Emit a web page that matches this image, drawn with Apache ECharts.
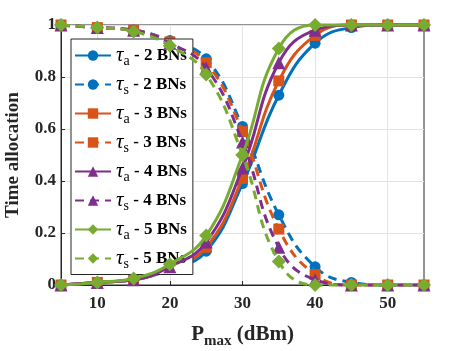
<!DOCTYPE html>
<html>
<head>
<meta charset="utf-8">
<script src="https://cdn.jsdelivr.net/npm/echarts@6/dist/echarts.min.js"></script>
<style>html,body{margin:0;padding:0;background:#fff}#c{width:468px;height:351px}</style>
</head>
<body>
<div id="c"></div>
<script>
const pmax = [5, 10, 15, 20, 25, 30, 35, 40, 45, 50, 55];
const xTicks = [10, 20, 30, 40, 50];
const yTicks = [0, 0.2, 0.4, 0.6, 0.8, 1];
const ta2 = [0, 0.01, 0.02, 0.06, 0.13, 0.39, 0.73, 0.93, 0.99, 1, 1];
const ts2 = [1, 0.99, 0.98, 0.94, 0.87, 0.61, 0.27, 0.07, 0.01, 0, 0];
const ta3 = [0, 0.01, 0.02, 0.065, 0.145, 0.41, 0.785, 0.96, 1, 1, 1];
const ts3 = [1, 0.99, 0.98, 0.935, 0.855, 0.59, 0.215, 0.04, 0, 0, 0];
const ta4 = [0, 0.01, 0.02, 0.07, 0.165, 0.45, 0.855, 0.98, 1, 1, 1];
const ts4 = [1, 0.99, 0.98, 0.93, 0.835, 0.55, 0.145, 0.02, 0, 0, 0];
const ta5 = [0, 0.01, 0.025, 0.08, 0.19, 0.50, 0.91, 1, 1, 1, 1];
const ts5 = [1, 0.99, 0.975, 0.92, 0.81, 0.50, 0.09, 0, 0, 0, 0];

const colors = ['#0072BD', '#D95319', '#7E2F8E', '#77AC30'];
const symbols = ['circle', 'rect', 'triangle', 'diamond'];
const bns = ['2', '3', '4', '5'];
const taAll = [ta2, ta3, ta4, ta5];
const tsAll = [ts2, ts3, ts4, ts5];
const FONT = '"Liberation Serif", "Times New Roman", serif';

const series = [];
const legendData = [];
function symSize(s) { return s === 'diamond' ? 14 : (s === 'triangle' ? 13 : 11); }
for (let i = 0; i < 4; i++) {
  const na = 'a|' + bns[i];
  const ns = 's|' + bns[i];
  legendData.push(na, ns);
  series.push({
    name: na, type: 'line', smooth: 0.45, clip: false,
    data: pmax.map((x, k) => [x, taAll[i][k]]),
    symbol: symbols[i], symbolSize: symSize(symbols[i]),
    showAllSymbol: true,
    lineStyle: { color: colors[i], width: 3, type: 'solid' },
    itemStyle: { color: colors[i], borderColor: colors[i], borderWidth: 0 },
    z: 2 + i
  });
  series.push({
    name: ns, type: 'line', smooth: 0.45, clip: false,
    data: pmax.map((x, k) => [x, tsAll[i][k]]),
    symbol: symbols[i], symbolSize: symSize(symbols[i]),
    showAllSymbol: true,
    lineStyle: { color: colors[i], width: 3, type: [9, 6] },
    itemStyle: { color: colors[i], borderColor: colors[i], borderWidth: 0 },
    z: 2 + i
  });
}

const chart = echarts.init(document.getElementById('c'), null, { renderer: 'canvas' });
chart.setOption({
  animation: false,
  backgroundColor: '#fff',
  grid: { left: 61, right: 44, top: 25, bottom: 66, containLabel: false, outerBoundsMode: 'none', show: true, borderColor: '#262626', borderWidth: 1, backgroundColor: 'transparent' },
  xAxis: {
    type: 'value', min: 5, max: 55,
    name: '{p|P}{m|max}{p| (dBm)}', nameLocation: 'middle', nameGap: 36,
    nameTextStyle: {
      rich: {
        p: { fontFamily: FONT, fontWeight: 'bold', fontSize: 21, color: '#262626' },
        m: { fontFamily: FONT, fontWeight: 'bold', fontSize: 15, color: '#262626', padding: [13, 0, 0, 0] }
      }
    },
    axisLine: { show: true, lineStyle: { color: '#262626', width: 1 } },
    axisTick: { show: true, inside: true, length: 4, customValues: xTicks, lineStyle: { color: '#262626' } },
    axisLabel: { customValues: xTicks, fontFamily: FONT, fontWeight: 'bold', fontSize: 17, color: '#262626', margin: 10 },
    splitLine: { show: true, lineStyle: { color: '#e3e3e3', width: 1 } }
  },
  yAxis: {
    type: 'value', min: 0, max: 1, interval: 0.2,
    name: 'Time allocation', nameLocation: 'middle', nameGap: 38,
    nameTextStyle: { fontFamily: FONT, fontWeight: 'bold', fontSize: 19, color: '#262626' },
    axisLine: { show: true, lineStyle: { color: '#262626', width: 1 } },
    axisTick: { show: true, inside: true, length: 4, lineStyle: { color: '#262626' } },
    axisLabel: { fontFamily: FONT, fontWeight: 'bold', fontSize: 17, color: '#262626', margin: 5 },
    splitLine: { show: true, lineStyle: { color: '#e3e3e3', width: 1 } }
  },
  legend: {
    orient: 'vertical', left: 71, top: 39,
    data: legendData,
    backgroundColor: '#fff', borderColor: '#262626', borderWidth: 1,
    padding: [6, 6, 3, 3], itemGap: 5.5, itemWidth: 36, itemHeight: 13,
    formatter: function (name) {
      const p = name.split('|');
      return '{t|τ}{s|' + p[0] + '}{n| - ' + p[1] + ' BNs}';
    },
    textStyle: {
      rich: {
        t: { fontFamily: FONT, fontStyle: 'italic', fontSize: 21, color: '#000', height: 23 },
        s: { fontFamily: FONT, fontSize: 14, color: '#000', padding: [12, 0, 0, 0] },
        n: { fontFamily: FONT, fontWeight: 'bold', fontSize: 17, color: '#000' }
      }
    }
  },
  series: series
});
</script>
</body>
</html>
